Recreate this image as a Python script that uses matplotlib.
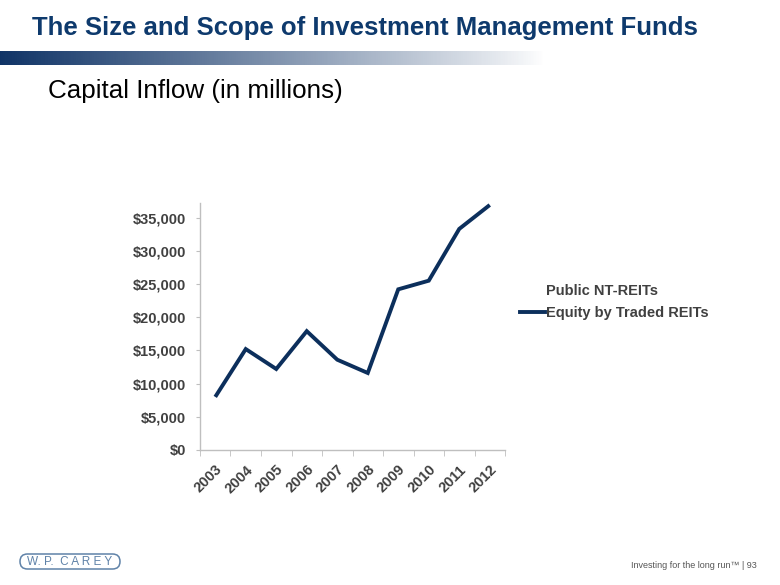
import numpy as np
import matplotlib.pyplot as plt
from matplotlib.patches import FancyBboxPatch
from matplotlib.lines import Line2D

plt.rcParams['font.family'] = ['Liberation Sans', 'DejaVu Sans']

years = ['2003', '2004', '2005', '2006', '2007', '2008', '2009', '2010', '2011', '2012']
traded_equity = [8000, 15200, 12200, 17900, 13600, 11600, 24200, 25500, 33300, 36900]
y_ticks = [0, 5000, 10000, 15000, 20000, 25000, 30000, 35000]

navy = '#0C2F5C'
gray_text = '#404040'
spine_gray = '#BFBFBF'

fig = plt.figure(figsize = (7.8, 5.85), dpi = 100)

# background axes in pixel units for the slide decorations
deco = fig.add_axes([0, 0, 1, 1])
deco.axis('off')

# title and gradient bar
deco.text(32, 28, 'The Size and Scope of Investment Management Funds',
          fontsize = 18.5, fontweight = 'bold', color = '#0E3A6D', va = 'center', ha = 'left')
grad = np.linspace(0, 1, 400)
alpha = np.clip(1 - grad, 0, 1) ** 0.9
rgba = np.zeros((1, 400, 4))
rgba[0, :, 0] = 0x0F / 255
rgba[0, :, 1] = 0x33 / 255
rgba[0, :, 2] = 0x66 / 255
rgba[0, :, 3] = alpha
deco.imshow(rgba, aspect = 'auto', extent = [0, 545, 65, 51])

deco.text(48, 91, 'Capital Inflow (in millions)',
          fontsize = 18.7, color = 'black', va = 'center', ha = 'left')

# footer
logo = FancyBboxPatch((20, 554), 100, 15, boxstyle = 'round,pad=0,rounding_size=7.5',
                      fill = False, edgecolor = '#5F82A8', lw = 1.1)
deco.add_patch(logo)
deco.text(70, 562, 'W. P.  C A R E Y', fontsize = 8.5, color = '#5F82A8',
          ha = 'center', va = 'center')
deco.text(757, 565, 'Investing for the long run\u2122 | 93', fontsize = 6.5,
          color = '#555555', ha = 'right', va = 'center')
deco.set_xlim(0, 780)
deco.set_ylim(585, 0)

# chart
ax = fig.add_axes([200 / 780, 1 - 450 / 585, 305 / 780, 247 / 585])
x = np.arange(len(years))
ax.plot(x, traded_equity, color = navy, lw = 2.8, solid_joinstyle = 'miter',
        solid_capstyle = 'butt')
ax.set_xlim(-0.5, len(years) - 0.5)
ax.set_ylim(0, 37200)
ax.set_yticks(y_ticks)
ax.set_yticklabels([f'${v:,}' for v in y_ticks], fontsize = 10.5, fontweight = 'bold',
                   color = gray_text)
ax.set_xticks(x)
ax.set_xticklabels(years, rotation = 45, ha = 'right', rotation_mode = 'anchor',
                   fontsize = 10.5, fontweight = 'bold', color = gray_text)
ax.set_xticks(np.arange(len(years) + 1) - 0.5, minor = True)
ax.tick_params(axis = 'x', which = 'major', length = 0, pad = 9)
ax.tick_params(axis = 'x', which = 'minor', length = 4, color = spine_gray, direction = 'out')
ax.tick_params(axis = 'y', length = 3, color = spine_gray, direction = 'out', pad = 7)
for side in ['top', 'right']:
    ax.spines[side].set_visible(False)
for side in ['left', 'bottom']:
    ax.spines[side].set_color(spine_gray)
    ax.spines[side].set_linewidth(1)

# legend
handles = [Line2D([], [], color = 'none', lw = 2.8),
           Line2D([], [], color = navy, lw = 2.8)]
fig.legend(handles, ['Public NT-REITs', 'Equity by Traded REITs'],
           loc = 'center left', bbox_to_anchor = (507 / 780, 1 - 302 / 585),
           frameon = False, handlelength = 1.7, handletextpad = 0.05,
           labelspacing = 0.5, prop = {'size': 10.5, 'weight': 'bold'},
           labelcolor = gray_text)

fig.savefig('out.png', dpi = 100)
